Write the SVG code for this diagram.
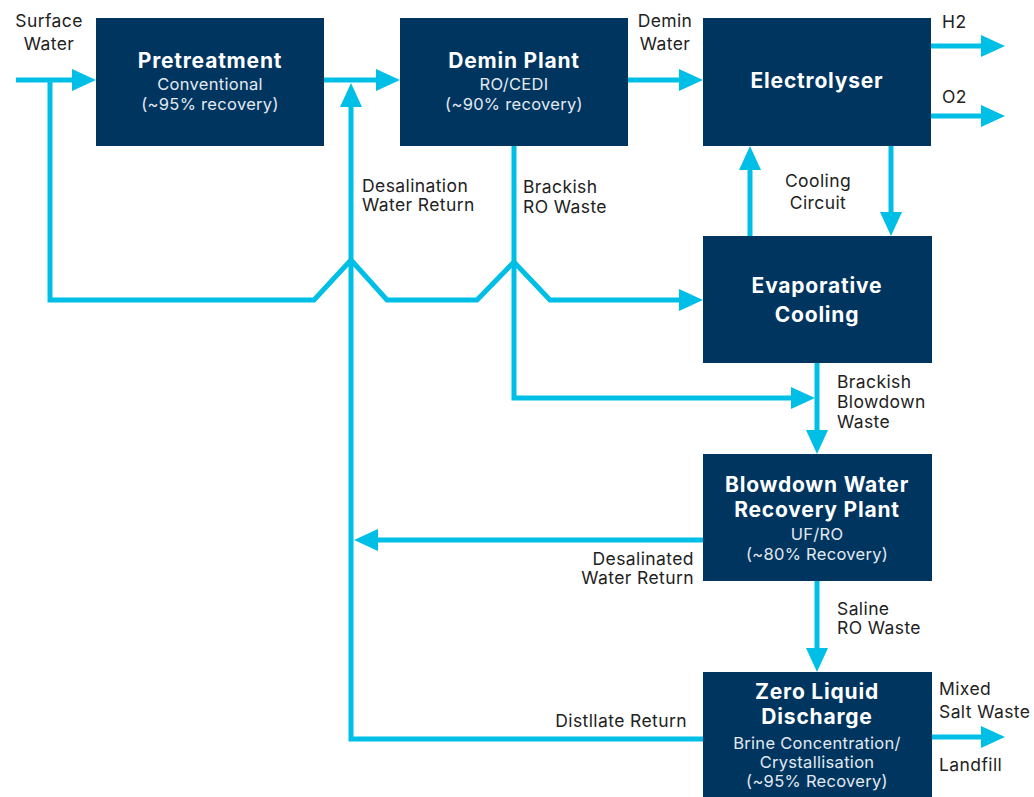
<svg xmlns="http://www.w3.org/2000/svg" width="1034" height="797" viewBox="0 0 1034 797">
<style>
.box{fill:#003560}
.t{font-family:Inter,"Liberation Sans",sans-serif;fill:#fff;text-anchor:middle;font-weight:700;font-size:21px;letter-spacing:0.8px}
.s{font-family:Inter,"Liberation Sans",sans-serif;fill:#e4eaf1;text-anchor:middle;font-size:16.5px;letter-spacing:0.3px}
.l{font-family:Inter,"Liberation Sans",sans-serif;fill:#222;font-size:17.5px;letter-spacing:0.4px}
.c{fill:none;stroke:#00BFE6;stroke-width:5;stroke-linejoin:miter}
</style>
<defs>
<marker id="ah" markerUnits="userSpaceOnUse" markerWidth="24" markerHeight="22" refX="14" refY="11" orient="auto">
<path d="M0,0 L24,11 L0,22 z" fill="#00BFE6"/>
</marker>
</defs>
<rect width="1034" height="797" fill="#fff"/>
<g id="connectors">
<path class="c" d="M16,80 H86" marker-end="url(#ah)"/>
<path class="c" d="M50,80 V300 H314 L351,260 L387,300 H477 L514,262 L550,300 H693" marker-end="url(#ah)"/>
<path class="c" d="M324,80 H390" marker-end="url(#ah)"/>
<path class="c" d="M628,80 H693" marker-end="url(#ah)"/>
<path class="c" d="M931,46 H995" marker-end="url(#ah)"/>
<path class="c" d="M931,116 H995" marker-end="url(#ah)"/>
<path class="c" d="M750,236 V156" marker-end="url(#ah)"/>
<path class="c" d="M891,146 V226" marker-end="url(#ah)"/>
<path class="c" d="M817,363 V444" marker-end="url(#ah)"/>
<path class="c" d="M514,146 V398 H805" marker-end="url(#ah)"/>
<path class="c" d="M703,540 H364" marker-end="url(#ah)"/>
<path class="c" d="M703,739 H351 V93" marker-end="url(#ah)"/>
<path class="c" d="M817,581 V662" marker-end="url(#ah)"/>
<path class="c" d="M932,737 H995" marker-end="url(#ah)"/>
</g>
<g id="pretreatment">
<rect class="box" x="96" y="18" width="228" height="128"/>
<text class="t" x="210" y="68">Pretreatment</text>
<text class="s" x="210" y="90">Conventional</text>
<text class="s" x="210" y="110">(~95% recovery)</text>
</g>
<g id="demin">
<rect class="box" x="400" y="18" width="228" height="128"/>
<text class="t" x="514" y="68">Demin Plant</text>
<text class="s" x="514" y="90">RO/CEDI</text>
<text class="s" x="514" y="110">(~90% recovery)</text>
</g>
<g id="electrolyser">
<rect class="box" x="703" y="18" width="228" height="128"/>
<text class="t" x="817" y="88">Electrolyser</text>
</g>
<g id="evaporative">
<rect class="box" x="703" y="236" width="229" height="127"/>
<text class="t" x="817" y="293">Evaporative</text>
<text class="t" x="817" y="322">Cooling</text>
</g>
<g id="blowdown">
<rect class="box" x="703" y="454" width="229" height="127"/>
<text class="t" x="817" y="492">Blowdown Water</text>
<text class="t" x="817" y="517">Recovery Plant</text>
<text class="s" x="817" y="540">UF/RO</text>
<text class="s" x="817" y="560">(~80% Recovery)</text>
</g>
<g id="zld">
<rect class="box" x="703" y="672" width="229" height="130"/>
<text class="t" x="817" y="699">Zero Liquid</text>
<text class="t" x="817" y="724">Discharge</text>
<text class="s" x="817" y="749">Brine Concentration/</text>
<text class="s" x="817" y="768">Crystallisation</text>
<text class="s" x="817" y="787">(~95% Recovery)</text>
</g>
<g id="labels">
<text class="l" x="49" y="27" text-anchor="middle">Surface</text>
<text class="l" x="49" y="50" text-anchor="middle">Water</text>
<text class="l" x="665" y="27" text-anchor="middle">Demin</text>
<text class="l" x="665" y="50" text-anchor="middle">Water</text>
<text class="l" x="942" y="28">H2</text>
<text class="l" x="942" y="103">O2</text>
<text class="l" x="362" y="192">Desalination</text>
<text class="l" x="362" y="211">Water Return</text>
<text class="l" x="523" y="193">Brackish</text>
<text class="l" x="523" y="213">RO Waste</text>
<text class="l" x="818" y="187" text-anchor="middle">Cooling</text>
<text class="l" x="818" y="209" text-anchor="middle">Circuit</text>
<text class="l" x="837" y="388">Brackish</text>
<text class="l" x="837" y="408">Blowdown</text>
<text class="l" x="837" y="428">Waste</text>
<text class="l" x="694" y="565" text-anchor="end">Desalinated</text>
<text class="l" x="694" y="584" text-anchor="end">Water Return</text>
<text class="l" x="837" y="615">Saline</text>
<text class="l" x="837" y="634">RO Waste</text>
<text class="l" x="687" y="727" text-anchor="end">Distllate Return</text>
<text class="l" x="939" y="695">Mixed</text>
<text class="l" x="939" y="718">Salt Waste</text>
<text class="l" x="939" y="771">Landfill</text>
</g>
</svg>
